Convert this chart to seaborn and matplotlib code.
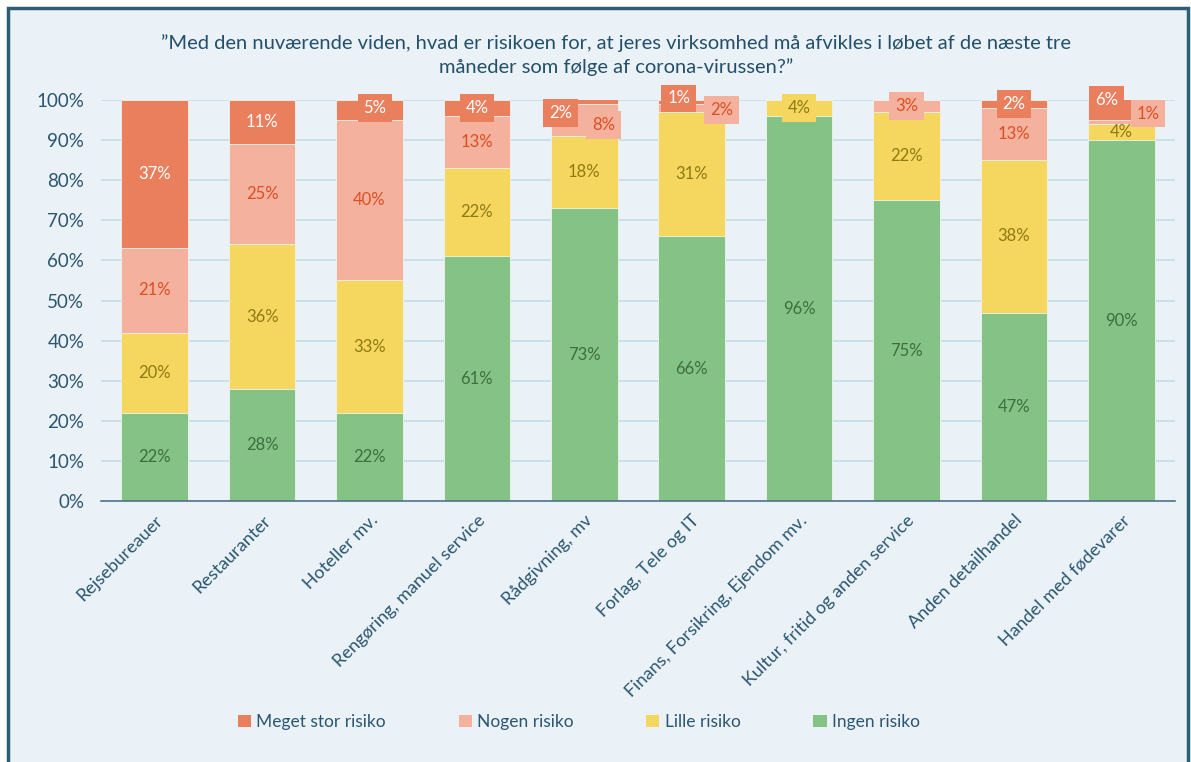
import matplotlib
matplotlib.use("Agg")
import matplotlib.pyplot as plt
import seaborn as sns
import numpy as np
import pandas as pd
from matplotlib.patches import Patch, Rectangle
from matplotlib.ticker import PercentFormatter

# Data
categories = ["Rejsebureauer", "Restauranter", "Hoteller mv.", "Rengøring, manuel service",
              "Rådgivning, mv", "Forlag, Tele og IT", "Finans, Forsikring, Ejendom mv.",
              "Kultur, fritid og anden service", "Anden detailhandel", "Handel med fødevarer"]
ingen = [22, 28, 22, 61, 73, 66, 96, 75, 47, 90]
lille = [20, 36, 33, 22, 18, 31, 4, 22, 38, 4]
nogen = [21, 25, 40, 13, 8, 2, 0, 3, 13, 1]
meget = [37, 11, 5, 4, 2, 1, 0, 0, 2, 6]

series_names = ["Ingen risiko", "Lille risiko", "Nogen risiko", "Meget stor risiko"]
series_values = [ingen, lille, nogen, meget]

title = ("”Med den nuværende viden, hvad er risikoen for, at jeres virksomhed må afvikles i løbet af de næste tre\n"
         "måneder som følge af corona-virussen?”")

# Styling
colors = {"Ingen risiko": "#84C385", "Lille risiko": "#F5D65E",
          "Nogen risiko": "#F4B19D", "Meget stor risiko": "#EA7F5E"}
label_colors = {"Ingen risiko": "#3E6E3F", "Lille risiko": "#8E7A14",
                "Nogen risiko": "#DC4F22", "Meget stor risiko": "#FFFFFF"}
bg = "#EAF2F7"
text_col = "#2B5670"

# labels that Excel placed in a box, with nudges (category units, percent points)
boxed = {
    (2, "Meget stor risiko"): (0.05, 0.5),
    (3, "Meget stor risiko"): (0.0, 0.0),
    (4, "Meget stor risiko"): (-0.22, -3.3),
    (4, "Nogen risiko"): (0.18, -1.2),
    (5, "Meget stor risiko"): (-0.12, 0.9),
    (5, "Nogen risiko"): (0.28, -0.5),
    (6, "Lille risiko"): (0.0, 0.0),
    (7, "Nogen risiko"): (0.0, 0.0),
    (8, "Meget stor risiko"): (0.0, 0.0),
    (9, "Meget stor risiko"): (-0.14, 2.1),
    (9, "Nogen risiko"): (0.25, 2.1),
}

sns.set_theme(style="white")
plt.rcParams["font.family"] = ["Lato", "DejaVu Sans"]

fig = plt.figure(figsize=(11.91, 7.62), dpi=100, facecolor="white")
fig.patches.append(Rectangle((8 / 1191, -0.02), 1 - 11 / 1191, 1.02 - 8 / 762,
                             transform=fig.transFigure, facecolor=bg,
                             edgecolor="#2E5E73", linewidth=2.5, zorder=-10))
ax = fig.add_axes([101 / 1191, 1 - 501 / 762, (1175 - 101) / 1191, 401 / 762])
ax.set_facecolor(bg)
ax.patch.set_alpha(0)

df = pd.DataFrame({"cat": categories})
cum = np.zeros(len(categories))
cums = []
for vals in series_values:
    cum = cum + np.array(vals)
    cums.append(cum.copy())

# draw from the tallest cumulative total down so each stack layer shows
for name, c in reversed(list(zip(series_names, cums))):
    df["v"] = c
    sns.barplot(data=df, x="cat", y="v", color=colors[name], saturation=1,
                width=0.62, ax=ax, edgecolor="#EEF4F0", linewidth=0.6, zorder=3)

# segment labels
bottom = np.zeros(len(categories))
for name, vals in zip(series_names, series_values):
    for i, v in enumerate(vals):
        if v <= 0:
            continue
        y = bottom[i] + v / 2
        x = i
        box = None
        if (i, name) in boxed:
            dx, dy = boxed[(i, name)]
            x += dx
            y += dy
            box = dict(boxstyle="square,pad=0.35", facecolor=colors[name], edgecolor="none")
        ax.text(x, y, f"{v}%", ha="center", va="center", fontsize=12,
                color=label_colors[name], bbox=box, zorder=6, clip_on=False)
    bottom += np.array(vals)

ax.set_ylim(0, 100)
ax.set_xlim(-0.5, len(categories) - 0.5)
ax.set_yticks(range(0, 101, 10))
ax.yaxis.set_major_formatter(PercentFormatter(decimals=0))
ax.grid(axis="y", color="#C6DDEA", linewidth=1.2, zorder=0)
ax.set_axisbelow(True)
for s in ["top", "right", "left"]:
    ax.spines[s].set_visible(False)
ax.spines["bottom"].set_color("#4F7489")
ax.spines["bottom"].set_linewidth(1.2)
ax.spines["bottom"].set_zorder(4)
ax.set_xlabel("")
ax.set_ylabel("")
ax.tick_params(axis="y", labelsize=13.5, colors=text_col, length=0, pad=12)
ax.tick_params(axis="x", labelsize=13, colors=text_col, length=0, pad=8)
plt.setp(ax.get_xticklabels(), rotation=45, ha="right", rotation_mode="anchor")

fig.text(0.517, 1 - 55 / 762, title, ha="center", va="center", fontsize=14.5,
         color="#234F6A", linespacing=1.45)

handles = [Patch(facecolor=colors[n], edgecolor="none") for n in series_names[::-1]]
leg = fig.legend(handles, series_names[::-1], loc="center", ncol=4,
                 bbox_to_anchor=(0.486, 1 - 722 / 762), frameon=False,
                 handlelength=0.75, handleheight=0.75, handletextpad=0.3,
                 columnspacing=4.2, fontsize=12.5)
for t in leg.get_texts():
    t.set_color(text_col)

fig.savefig("out.png", dpi=100, facecolor="white")
